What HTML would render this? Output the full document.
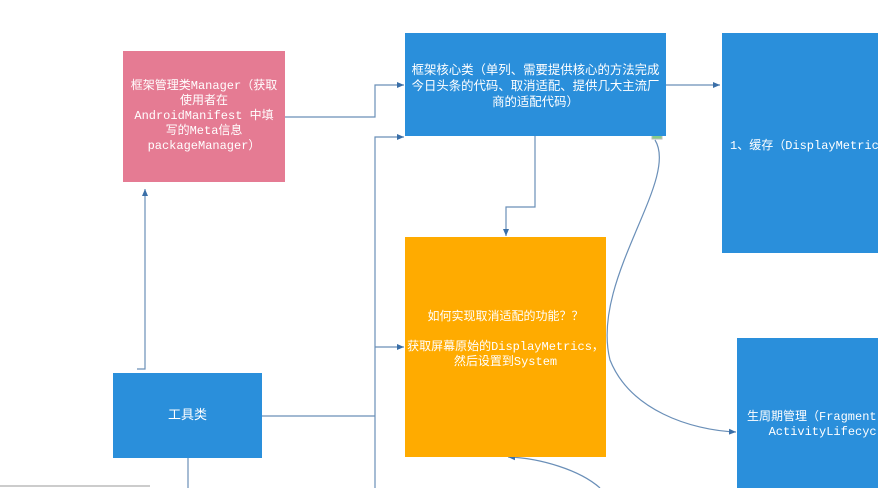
<!DOCTYPE html>
<html><head><meta charset="utf-8"><style>
body{margin:0;width:878px;height:488px;background:#fff;overflow:hidden;position:relative;font-family:"Liberation Mono","Noto Sans CJK SC",monospace;}
.b{position:absolute;color:#fff;font-size:12px;line-height:15px;text-align:center;display:flex;align-items:center;justify-content:center;box-sizing:border-box;overflow:hidden;}
</style></head><body>
<svg width="878" height="488" style="position:absolute;left:0;top:0">
<defs><marker id="a" markerWidth="8" markerHeight="8" refX="7" refY="4" orient="auto" markerUnits="userSpaceOnUse"><path d="M0,1 L7,4 L0,7 Z" fill="#3a6fa8"/></marker></defs>
<g stroke="#6a8fb8" stroke-width="1.2" fill="none">
<path d="M285,117 H375 V85 H404" marker-end="url(#a)"/>
<path d="M375,488 V137 H404" marker-end="url(#a)"/>
<path d="M262,416 H375"/>
<path d="M375,347 H404" marker-end="url(#a)"/>
<path d="M535,136 V207 H506 V236" marker-end="url(#a)"/>
<path d="M666,85 H720" marker-end="url(#a)"/>
<path d="M655,140 C680,180 590,280 610,360 C630,410 690,430 736,432" marker-end="url(#a)"/>
<path d="M600,488 C580,470 540,458 508,457" marker-end="url(#a)"/>
<path d="M137,369 H145 V189" marker-end="url(#a)"/>
<path d="M188,458 V488"/>
</g>
<line x1="0" y1="486" x2="150" y2="486" stroke="#ccc" stroke-width="2"/>
<rect x="652" y="132" width="10" height="7" fill="#8c8" stroke="#bbb"/>
</svg>
<div class="b" style="left:123px;top:51px;width:162px;height:131px;background:#e57b93;padding:0 6px">框架管理类Manager（获取使用者在AndroidManifest 中填写的Meta信息packageManager）</div>
<div class="b" style="left:405px;top:33px;width:261px;height:103px;background:#2a8fdb;align-items:flex-start;padding:30px 2px 0;font-size:12.4px;line-height:16px">框架核心类（单列、需要提供核心的方法完成今日头条的代码、取消适配、提供几大主流厂商的适配代码）</div>
<div class="b" style="left:722px;top:33px;width:156px;height:220px;background:#2a8fdb;justify-content:flex-start;white-space:nowrap;padding-left:8px;padding-top:6px">1、缓存（DisplayMetrics</div>
<div class="b" style="left:405px;top:237px;width:201px;height:220px;background:#ffab00;align-items:flex-start;padding-top:73px">如何实现取消适配的功能？？<br><br>获取屏幕原始的DisplayMetrics，然后设置到System</div>
<div class="b" style="left:113px;top:373px;width:149px;height:85px;background:#2a8fdb;font-size:13px">工具类</div>
<div class="b" style="left:737px;top:338px;width:141px;height:150px;background:#2a8fdb;justify-content:flex-start;white-space:nowrap;text-align:left;padding-left:10px;padding-top:24px">生周期管理（FragmentLifecycle<br>&nbsp;&nbsp;&nbsp;ActivityLifecycle</div>
</body></html>
